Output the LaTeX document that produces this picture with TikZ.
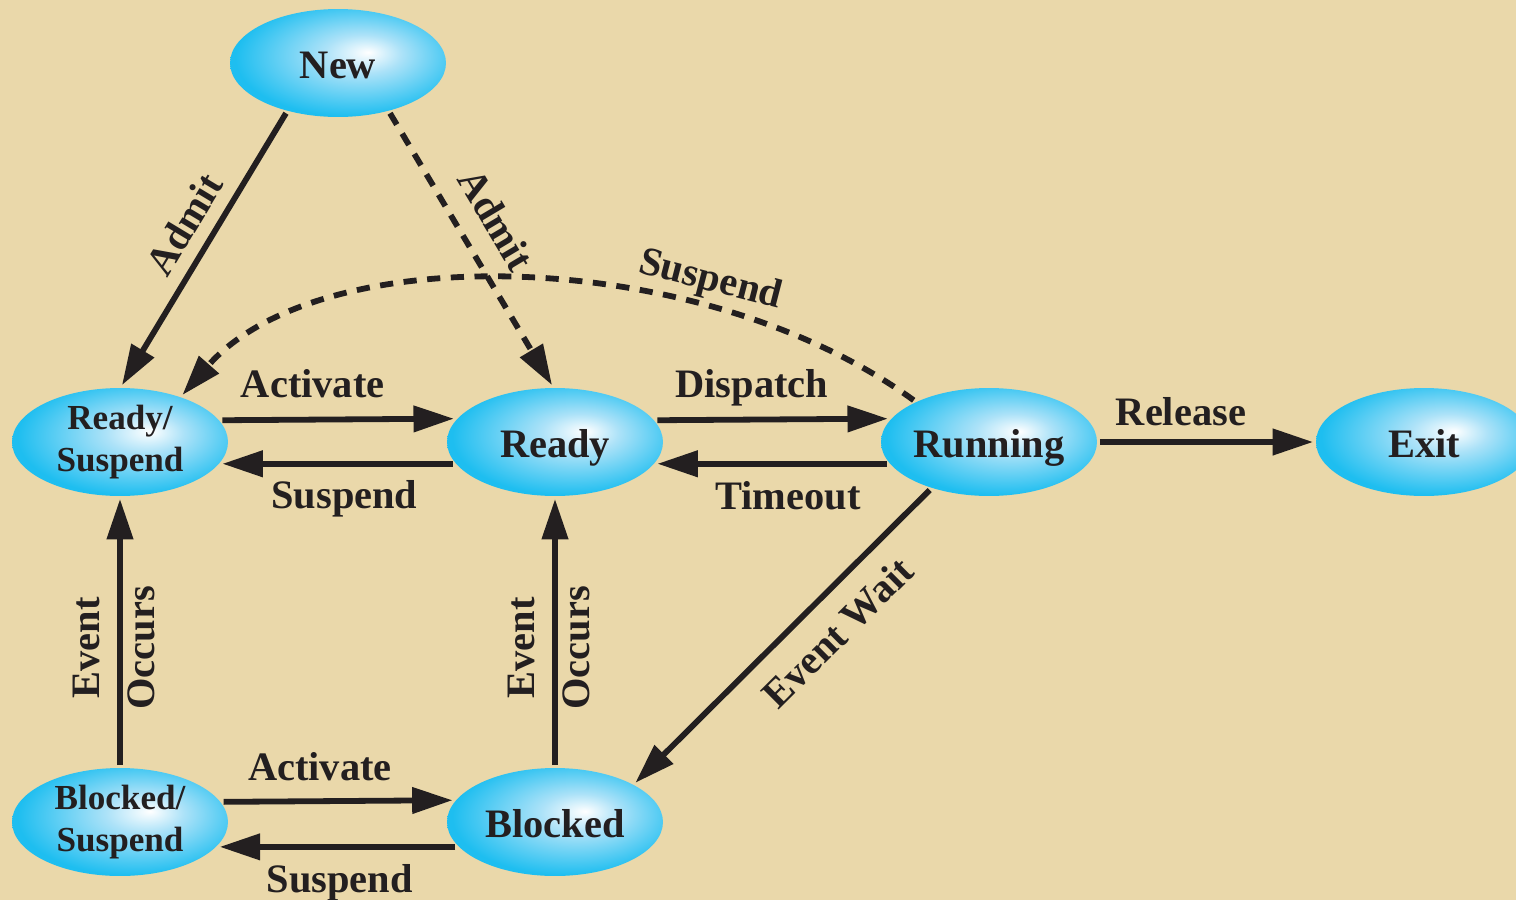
\documentclass[tikz,border=0pt]{standalone}
\usepackage{fontspec}
\setmainfont{Liberation Serif}
\usetikzlibrary{shapes.geometric,arrows.meta}

\definecolor{paper}{RGB}{234,216,170}
\definecolor{ink}{RGB}{35,31,32}
\definecolor{ballmid}{RGB}{172,226,248}
\definecolor{balledge}{RGB}{30,190,240}
\pgfdeclareradialshading{stateball}{\pgfpoint{7bp}{5bp}}{color(0bp)=(white); color(9bp)=(ballmid); color(27bp)=(balledge); color(50bp)=(balledge)}

\begin{document}
\begin{tikzpicture}[x=0.02cm, y=-0.02cm, line width=3.3pt, ink,
	ball/.style={ellipse, shading=stateball, minimum width=4.32cm, minimum height=2.16cm, inner sep=0pt, align=center, text=ink},
	state/.style={ball, text height=17.8pt, text depth=0pt, font=\bfseries\fontsize{23}{28}\selectfont},
	state2/.style={ball, font=\bfseries\fontsize{20}{24}\selectfont},
	tr/.style={-{Triangle[length=23pt,width=14.5pt]}},
	susp/.style={tr, dash pattern=on 7.5pt off 6pt},
	lbl/.style={text=ink, inner sep=0pt, text height=15.6pt, text depth=0pt, font=\bfseries\fontsize{23}{28}\selectfont}]
	\fill[paper] (0,0) rectangle (1516,900);
	\useasboundingbox (0,0) rectangle (1516,900);

	\node[state] (new) at (338,63) {New};
	\node[state2] (rs) at (120,442) {Ready/\\Suspend};
	\node[state] (rd) at (555,442) {Ready};
	\node[state] (run) at (989,442) {Running};
	\node[state] (ex) at (1424,442) {Exit};
	\node[state2] (bs) at (120,822) {Blocked/\\Suspend};
	\node[state] (bl) at (555,822) {Blocked};

	\draw[tr] (new.224) -- (rs.88) node[lbl, pos=0.465, sloped, above=7.5pt]{Admit};
	\draw[susp] (new.-44) -- (rd.93) node[lbl, pos=0.46, sloped, above=11.5pt]{Admit};
	\draw[susp] (run.151) .. controls (700,245) and (320,238) .. (rs.37) node[lbl, pos=0.28, sloped, above=7pt]{Suspend};

	\draw[tr] (rs.12.6) -- (rd.167.4) node[lbl, pos=0.39, above=11pt]{Activate};
	\draw[tr] (rd.192) -- (rs.-12) node[lbl, pos=0.47, below=8pt]{Suspend};
	\draw[tr] (rd.12.6) -- (run.167.4) node[lbl, pos=0.41, above=11pt]{Dispatch};
	\draw[tr] (run.192) -- (rd.-12) node[lbl, pos=0.43, below=9pt]{Timeout};
	\draw[tr] (run.east) -- (ex.west) node[lbl, pos=0.38, above=8pt]{Release};
	\draw[tr] (run.219) -- (bl.26) node[lbl, pos=0.40, sloped, below=11pt]{Event Wait};

	\draw[tr] (bs.north) -- (rs.south) node[lbl, pos=0.44, sloped, above=10pt]{Event} node[lbl, pos=0.44, sloped, below=2.5pt]{Occurs};
	\draw[tr] (bl.north) -- (rd.south) node[lbl, pos=0.44, sloped, above=10pt]{Event} node[lbl, pos=0.44, sloped, below=2.5pt]{Occurs};

	\draw[tr] (bs.11.3) -- (bl.168.7) node[lbl, pos=0.42, above=10pt]{Activate};
	\draw[tr] (bl.194) -- (bs.-14) node[lbl, pos=0.49, below=9pt]{Suspend};
\end{tikzpicture}
\end{document}
